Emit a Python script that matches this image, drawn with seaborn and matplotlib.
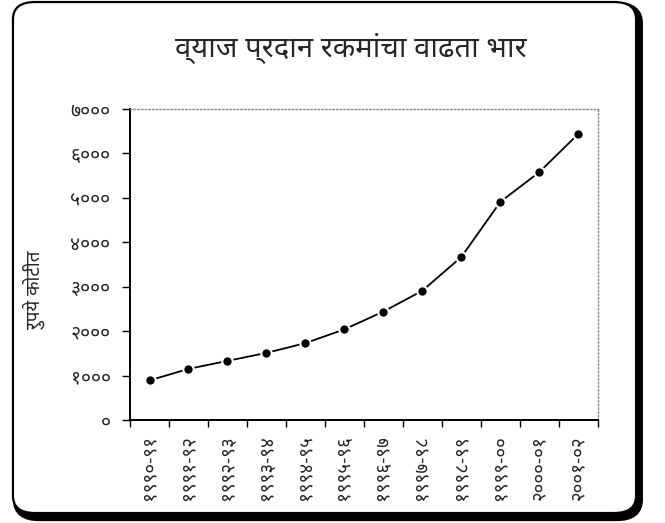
import matplotlib

matplotlib.use("Agg")

import matplotlib.pyplot as plt
import pandas as pd
import seaborn as sns
from matplotlib import font_manager
from matplotlib.patches import FancyBboxPatch
from matplotlib.ticker import FixedLocator

years = ["१९९०-९१", "१९९१-९२", "१९९२-९३", "१९९३-९४", "१९९४-९५", "१९९५-९६",
         "१९९६-९७", "१९९७-९८", "१९९८-९९", "१९९९-००", "२०००-०१", "२००१-०२"]
payments = [890, 1150, 1330, 1510, 1730, 2040, 2440, 2910, 3670, 4910, 5580, 6440]
y_ticks = [0, 1000, 2000, 3000, 4000, 5000, 6000, 7000]
y_tick_labels = ["०", "१०००", "२०००", "३०००", "४०००", "५०००", "६०००", "७०००"]
title = "व्याज प्रदान रकमांचा वाढता भार"
y_label = "रुपये कोटीत"

PREFERRED = ["Noto Sans Devanagari", "Lohit Devanagari", "FreeSans"]


def pick_devanagari_fonts():
    """Keep the preferred Devanagari families that are installed."""
    installed = {entry.name for entry in font_manager.fontManager.ttflist}
    return [name for name in PREFERRED if name in installed]


sns.set_theme(style="white")
plt.rcParams["font.family"] = pick_devanagari_fonts() + ["DejaVu Sans"]

df = pd.DataFrame({"year": years, "payment": payments})

fig = plt.figure(figsize=(6.65, 5.23), dpi=100)
ax = fig.add_axes([0.1955, 0.197, 0.7035, 0.5946])

sns.pointplot(data=df, x="year", y="payment", color="black", markers="o",
              markersize=7.5, linewidth=1.3, markeredgecolor="white",
              markeredgewidth=1.5, ax=ax)

ax.set_xlim(-0.5, len(years) - 0.5)
ax.set_ylim(0, 7000)
ax.set_yticks(y_ticks)
ax.set_yticklabels(y_tick_labels, fontsize=14, fontweight="bold")
ax.set_xticks(range(len(years)))
ax.set_xticklabels(years, rotation=90, fontsize=13.5)
ax.xaxis.set_minor_locator(FixedLocator([i - 0.5 for i in range(len(years) + 1)]))
ax.tick_params(axis="x", which="major", length=0, pad=11)
ax.tick_params(axis="x", which="minor", length=5, width=1, color="black", direction="out", bottom=True)
ax.tick_params(axis="y", length=6, width=1, color="black", direction="out", left=True, pad=8)
ax.set_xlabel("")
ax.set_ylabel(y_label, fontsize=13.5)
ax.yaxis.set_label_coords(-0.18, 0.42)

for side in ["left", "bottom"]:
    ax.spines[side].set_color("black")
    ax.spines[side].set_linewidth(1.4)
for side in ["top", "right"]:
    ax.spines[side].set_color("#888888")
    ax.spines[side].set_linestyle(":")
    ax.spines[side].set_linewidth(1.0)

fig.text(0.527, 0.908, title, ha="center", va="center", fontsize=21)

# shadowed rounded frame around the whole chart
shadow = FancyBboxPatch((0.0256, 0.0115), 0.935, 0.977, boxstyle="round,pad=0,rounding_size=0.033",
                        transform=fig.transFigure, facecolor="none", edgecolor="black",
                        linewidth=6, zorder=-2)
frame = FancyBboxPatch((0.0195, 0.0191), 0.937, 0.977, boxstyle="round,pad=0,rounding_size=0.033",
                       transform=fig.transFigure, facecolor="white", edgecolor="black",
                       linewidth=1.6, zorder=-1)
fig.patches.extend([shadow, frame])

fig.savefig("out.png", dpi=100)
